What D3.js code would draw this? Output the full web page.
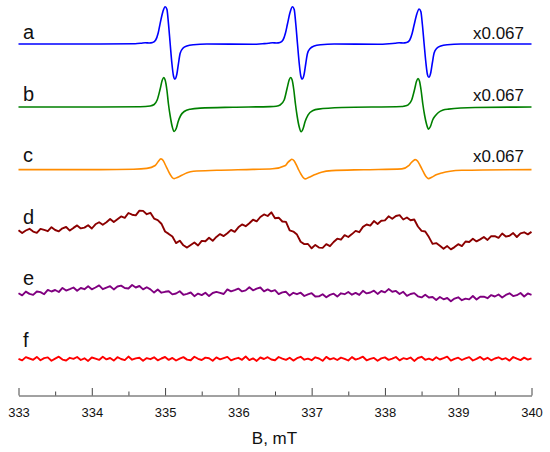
<!DOCTYPE html>
<html>
<head>
<meta charset="utf-8">
<script src="https://cdn.jsdelivr.net/npm/d3@7"></script>
<style>
  body { margin: 0; background: #fff; }
  svg text { font-family: "Liberation Sans", Arial, sans-serif; }
</style>
</head>
<body>
<svg id="chart" width="550" height="452"></svg>
<script>
// sample labels, scaling notes and trace colours
const labels = ['a', 'b', 'c', 'd', 'e', 'f'];
const scaleNotes = ['x0.067', 'x0.067', 'x0.067', '', '', ''];
const colors = ['#0000ff', '#008000', '#ff8c00', '#8b0000', '#800080', '#ff0000'];

// field axis, mT
const fieldTicks = [333, 334, 335, 336, 337, 338, 339, 340];
const minorTicks = [333.5, 334.5, 335.5, 336.5, 337.5, 338.5, 339.5];

// a, b, c: [field mT, intensity a.u.]
const traceA = [
  [333.000, 0], [334.115, 0], [334.592, 0.3], [334.674, 0.8], [334.729, 1.3], [334.783, 1.0],
  [334.831, 1.5], [334.872, 4], [334.906, 11], [334.933, 20.7], [334.970, 32.3], [335.001, 37.3],
  [335.025, 34.7], [335.046, 20.7], [335.070, 0], [335.093, -19.3], [335.115, -32], [335.134, -35],
  [335.161, -30], [335.183, -19.3], [335.206, -9.3], [335.243, -4.3], [335.297, -2], [335.387, -0.7],
  [335.570, 0], [336.200, -0.3],
  [336.329, 0.3], [336.411, 0.7], [336.466, 1.2], [336.520, 1.0], [336.568, 1.5], [336.609, 4],
  [336.643, 11], [336.670, 20], [336.707, 32], [336.738, 37.3], [336.762, 34.5], [336.783, 20.5],
  [336.807, 0], [336.830, -19], [336.852, -32], [336.871, -35], [336.898, -30], [336.920, -19.5],
  [336.943, -9.5], [336.980, -4.5], [337.034, -2], [337.124, -0.7], [337.307, 0], [337.900, -0.2],
  [338.057, 0.3], [338.139, 0.8], [338.194, 1.3], [338.248, 1.0], [338.296, 1.5], [338.337, 3.8],
  [338.371, 10.5], [338.398, 19], [338.435, 30], [338.466, 35], [338.490, 32.5], [338.511, 19.5],
  [338.535, 0], [338.558, -18], [338.580, -30.5], [338.599, -33.3], [338.626, -28.5], [338.648, -18.5],
  [338.671, -9], [338.708, -4.3], [338.762, -2], [338.852, -0.7], [339.035, 0], [340.000, 0]
];
const traceB = [
  [333.000, 0], [334.115, 0], [334.660, 0.3], [334.797, 1.0], [334.851, 2.5], [334.892, 7],
  [334.933, 18], [334.960, 26.5], [334.981, 29.5], [335.001, 27], [335.025, 17], [335.046, 3],
  [335.070, -9], [335.097, -19.5], [335.124, -24.5], [335.152, -21.5], [335.179, -14.5], [335.213, -8.5],
  [335.261, -4.5], [335.343, -2.2], [335.479, -1.1], [335.929, -0.2], [336.434, 0.4], [336.516, 0.8],
  [336.570, 2], [336.625, 7], [336.666, 19], [336.693, 27], [336.714, 29.5], [336.734, 27],
  [336.757, 17], [336.779, 3], [336.802, -9], [336.829, -19.5], [336.857, -24.8], [336.884, -21.5],
  [336.911, -14.5], [336.952, -7.8], [337.020, -3.5], [337.093, -2.1], [337.412, -0.5], [338.231, 0.5],
  [338.262, 0.9], [338.317, 2.2], [338.365, 7], [338.406, 18], [338.430, 25.5], [338.451, 28.5],
  [338.471, 26], [338.494, 16.5], [338.517, 3], [338.542, -8.5], [338.569, -17.5], [338.594, -22.1],
  [338.621, -19.5], [338.651, -13], [338.685, -9], [338.730, -5.5], [338.794, -3], [338.866, -2.1],
  [339.231, -0.5], [340.000, 0]
];
const traceC = [
  [333.000, 0.4], [334.115, 0.4], [334.569, 0.8], [334.751, 1.6], [334.865, 4.5], [334.905, 8.3],
  [334.943, 11.1], [334.974, 9.5], [335.005, 5], [335.038, 0], [335.070, -4.5], [335.097, -7.5],
  [335.124, -8.6], [335.165, -7.5], [335.229, -5.3], [335.301, -2.8], [335.387, -1.3], [335.707, -0.3],
  [336.200, 0.6], [336.466, 1.2], [336.643, 4.5], [336.676, 7.6], [336.705, 9.5], [336.729, 10.7],
  [336.760, 9.2], [336.793, 4.8], [336.824, 0], [336.857, -4.5], [336.884, -7.5], [336.911, -8.9],
  [336.957, -7.6], [337.048, -4.6], [337.134, -2.2], [337.275, -0.6], [337.708, 0.3], [338.231, 1.1],
  [338.324, 4.3], [338.355, 7.0], [338.385, 9.2], [338.413, 10.4], [338.447, 8.8], [338.480, 4.5],
  [338.512, 0], [338.543, -4.5], [338.569, -7.3], [338.594, -8.6], [338.638, -7.2], [338.699, -4.8],
  [338.777, -2.9], [338.890, -1.2], [339.049, -0.3], [340.000, 0.4]
];

// d, e, f: intensity sampled every 0.05 mT from 333 mT
const gridStart = 333;
const gridStep = 0.05;
const traceD = [
  2.8, 0.0, 2.5, 4.2, 1.4, 0.1, 4.1, 3.1, 1.8, 5.8,
  3.0, 1.7, 4.7, 6.0, 2.4, 5.1, 7.6, 4.6, 5.4, 7.8,
  4.5, 8.7, 10.8, 8.3, 10.8, 14.0, 10.9, 13.8, 16.6, 15.2,
  20.0, 18.3, 17.6, 22.3, 22.1, 18.8, 20.2, 14.4, 12.9, 9.3,
  1.5, -0.9, -3.5, -10.1, -7.7, -12.3, -14.6, -12.0, -9.5, -12.5,
  -7.9, -8.3, -4.8, -7.8, -3.9, -1.1, -3.1, -0.2, 3.1, 1.2,
  5.7, 8.6, 6.8, 9.8, 13.3, 11.6, 16.0, 18.6, 17.0, 20.7,
  14.8, 15.3, 11.5, 11.1, 2.6, 1.4, -1.6, -8.8, -11.1, -11.0,
  -15.3, -11.9, -14.6, -14.9, -11.2, -13.2, -9.0, -5.7, -6.7, -2.2,
  -4.0, -1.1, 2.1, 0.8, 6.1, 8.5, 7.4, 11.9, 9.1, 12.2,
  12.6, 16.7, 14.2, 17.0, 17.9, 13.5, 15.5, 12.7, 13.5, 6.5,
  2.1, 1.5, -4.1, -10.9, -10.1, -12.8, -15.8, -13.1, -16.4, -14.1,
  -11.2, -13.1, -8.5, -9.0, -5.8, -8.4, -6.4, -4.0, -6.9, -3.1,
  -3.2, -4.9, -0.5, -3.6, -2.8, -0.1, -4.0, -0.3, 0.7, -1.4,
  1.1
];
const traceE = [
  2.7, 0.6, 4.4, 2.1, 1.1, 4.5, 3.9, 1.8, 6.1, 4.5,
  6.0, 4.0, 8.1, 5.4, 6.9, 8.5, 5.2, 8.0, 6.8, 9.7,
  6.7, 8.5, 10.6, 6.8, 8.4, 9.8, 6.6, 9.5, 10.4, 8.0,
  7.5, 11.0, 8.5, 10.0, 6.6, 8.8, 6.6, 3.4, 6.5, 3.3,
  4.2, 4.8, 1.6, 2.5, 4.7, 1.2, 2.2, 3.5, -0.2, 2.4,
  0.9, 3.3, -0.1, 3.0, 4.1, 3.2, 2.0, 6.6, 4.6, 5.9,
  7.4, 4.6, 5.6, 8.8, 5.7, 7.3, 8.5, 4.7, 6.6, 4.6,
  5.9, 1.9, 3.6, 4.2, 0.4, 3.2, 1.8, 3.3, 0.0, 1.6,
  2.8, -0.5, -0.4, 1.7, -1.3, 1.1, 2.3, -0.6, 2.7, 1.8,
  4.0, 1.3, 3.1, 1.1, 5.2, 2.6, 3.5, 5.3, 2.1, 5.0,
  3.6, 6.9, 4.3, 5.1, 2.0, 4.2, 0.1, 2.0, 2.9, -0.3,
  -1.4, 1.3, -1.5, -1.0, -3.9, -1.0, -3.3, -2.0, -5.3, -2.6,
  -1.3, -4.2, -2.6, -3.4, 0.0, -3.5, -0.7, -0.7, -2.2, 0.9,
  -0.5, 1.5, -1.5, 1.1, 2.7, -0.1, 0.8, 3.0, -0.5, 2.6,
  1.2
];
const traceF = [
  0.2, -1.4, 1.9, 0.5, -0.8, 2.1, -1.2, 0.9, 1.6, -1.7,
  0.4, 2.3, -0.6, -1.5, 1.2, 0.1, 2.0, -1.0, 0.7, -1.9,
  1.5, 0.3, -0.9, 2.2, -0.4, 1.0, -1.6, 1.8, 0.0, -1.1,
  2.4, -0.7, 0.6, 1.3, -1.8, 0.9, -0.2, 1.7, -1.3, 0.5,
  2.0, -0.9, 1.1, -1.5, 0.4, 1.9, -0.6, -1.2, 2.3, 0.2,
  -1.0, 1.4, 0.7, -1.7, 1.6, -0.3, 0.9, 2.1, -1.4, 0.1,
  1.2, -0.8, 2.5, -1.1, 0.6, -1.9, 1.5, 0.0, 1.8, -0.5,
  -1.3, 2.0, 0.4, -0.9, 1.3, -1.6, 0.8, 2.2, -0.7, 0.3,
  -1.2, 1.7, 0.5, -1.8, 2.1, -0.4, 0.9, -1.0, 1.4, 0.2,
  -1.5, 1.9, -0.6, 0.7, 2.3, -1.3, 0.1, 1.1, -1.7, 0.6,
  1.6, -0.9, 0.3, 2.0, -1.4, 0.8, -0.2, 1.5, -1.9, 1.0,
  2.2, -0.8, 0.4, -1.2, 1.8, -0.5, 0.9, 2.4, -1.6, 0.2,
  1.3, -1.0, 0.6, 1.9, -1.5, 0.1, 2.1, -0.7, 1.2, -1.3,
  0.5, 1.7, -0.4, 0.8, -1.6, 2.0, 0.3, -1.1, 1.4, -0.6,
  0.7
];

const sampled = vals => vals.map((v, i) => [gridStart + i * gridStep, v]);

const series = [
  {key: 'a', values: traceA, smooth: true},
  {key: 'b', values: traceB, smooth: true},
  {key: 'c', values: traceC, smooth: true},
  {key: 'd', values: sampled(traceD), smooth: false},
  {key: 'e', values: sampled(traceE), smooth: false},
  {key: 'f', values: sampled(traceF), smooth: false}
];

const svg = d3.select('#chart');

let xScale = d3.scaleLinear().domain([333, 340]).range([18.5, 531.5]);
// each spectrum sits on its own baseline, labels slightly above
let rowScale = d3.scalePoint().domain(labels).range([44, 359]);
let labelScale = d3.scalePoint().domain(labels).range([39, 347]);
let ampScale = d3.scaleLinear().domain([-40, 40]).range([40, -40]);

let smoothLine = d3.line()
                   .x(d => xScale(d[0]))
                   .y(d => ampScale(d[1]))
                   .curve(d3.curveMonotoneX);
let noisyLine = d3.line()
                  .x(d => xScale(d[0]))
                  .y(d => ampScale(d[1]));

series.forEach((s, i) => {
  svg.append('g')
     .attr('transform', `translate(0, ${rowScale(s.key)})`)
     .append('path')
     .attr('d', (s.smooth ? smoothLine : noisyLine)(s.values))
     .attr('fill', 'none')
     .attr('stroke', colors[i])
     .attr('stroke-width', s.smooth ? 1.6 : 1.9)
     .attr('stroke-linejoin', 'round');

  svg.append('text')
     .attr('x', 23)
     .attr('y', labelScale(s.key))
     .attr('font-size', 20)
     .attr('fill', '#111')
     .text(s.key);

  if (scaleNotes[i]) {
    svg.append('text')
       .attr('x', 524)
       .attr('y', labelScale(s.key))
       .attr('text-anchor', 'end')
       .attr('font-size', 17)
       .attr('fill', '#111')
       .text(scaleNotes[i]);
  }
});

// axis: ticks point up, labels below
let xAxis = d3.axisBottom(xScale)
              .tickValues(fieldTicks)
              .tickSizeInner(-7.5)
              .tickSizeOuter(0)
              .tickPadding(12)
              .tickFormat(d3.format('d'));
let axisG = svg.append('g')
               .attr('class', 'x-axis')
               .attr('transform', 'translate(0, 395.5)')
               .call(xAxis);
axisG.selectAll('path, line').attr('stroke', '#444');
axisG.selectAll('text').attr('font-size', 13).attr('fill', '#111')
     .attr('font-family', '"Liberation Sans", Arial, sans-serif');

let minorAxis = d3.axisBottom(xScale)
                  .tickValues(minorTicks)
                  .tickSizeInner(-4)
                  .tickSizeOuter(0)
                  .tickFormat('');
let minorG = svg.append('g')
                .attr('transform', 'translate(0, 395.5)')
                .call(minorAxis);
minorG.select('.domain').remove();
minorG.selectAll('line').attr('stroke', '#444');

svg.append('text')
   .attr('x', 274.5)
   .attr('y', 444)
   .attr('text-anchor', 'middle')
   .attr('font-size', 17)
   .attr('fill', '#111')
   .text('B, mT');
</script>
</body>
</html>
